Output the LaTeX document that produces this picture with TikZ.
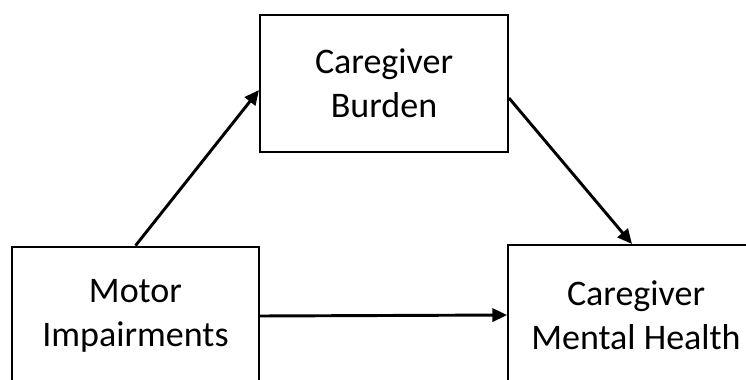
\documentclass[tikz,border=0pt]{standalone}
\usepackage{fontspec}
\setmainfont{Carlito}
\usetikzlibrary{arrows.meta}
\begin{document}
\begin{tikzpicture}[x=0.75pt,y=-0.75pt,
    box/.style={draw, line width=1.5pt, align=center, inner sep=0pt,
      font=\fontsize{27}{33}\selectfont},
    link/.style={-{Triangle[length=11pt,width=10pt]}, line width=2.2pt}]
            \useasboundingbox (0,0) rectangle (746,379);
            \clip (0,0) rectangle (746,379);
            \node[box, minimum width=186pt, minimum height=103pt] (burden) at (384,83.5) {Caregiver\\Burden};
            \node[box, minimum width=185pt, minimum height=104pt] (motor) at (135.5,316) {Motor\\Impairments};
            \node[box, minimum width=192pt, minimum height=105pt] (health) at (636,315) {Caregiver\\Mental Health};
            \draw[link] (motor.north) -- ([yshift=-4.9pt]burden.west);
            \draw[link] ([yshift=-10.9pt]burden.east) -- ([xshift=-3pt]health.north);
            \draw[link] (motor.east) -- (health.west);
        \end{tikzpicture}
\end{document}
